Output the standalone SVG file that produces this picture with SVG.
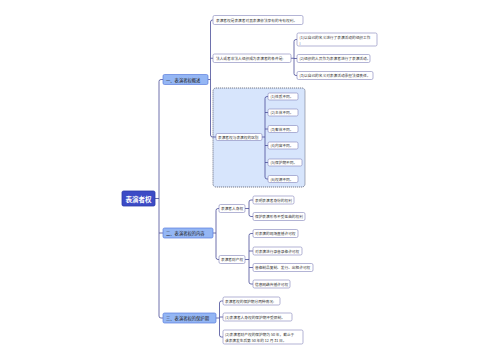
<svg xmlns="http://www.w3.org/2000/svg" width="500" height="360" viewBox="0 0 500 360">
<style>
text{font-family:"Noto Sans CJK SC","Noto Sans",sans-serif;fill:#333;dominant-baseline:central}
.root rect{fill:#3c4bc6;stroke:#2c3aa8;stroke-width:0.8}
.root text{fill:#fff;font-size:6.5px;font-weight:bold;text-anchor:middle}
.br rect{fill:#94b6f4;stroke:#5a7ddc;stroke-width:0.7}
.br text{font-size:4.3px;fill:#222}
.lf rect{fill:#fff;stroke:#7f82b8;stroke-width:0.6}
.lf text{font-size:3.7px}
.grp{fill:#d7e5fc;stroke:#555a70;stroke-width:0.8;stroke-dasharray:1.2 0.8}
.cn path{fill:none;stroke:#494c98;stroke-width:0.8}
</style>
<rect width="500" height="360" fill="#fff"/>
<rect class="grp" x="213" y="88" width="92" height="99" rx="3"/>
<g class="cn">
<path d="M155,198.5 H159 M163,79.5 H161 Q159,79.5 159,81.5 V316 Q159,318 161,318 H163 M159,233 H163" stroke-width="1"/>
<path d="M208,79.5 H210.5 M213,20 H212.5 Q210.5,20 210.5,22 V135 Q210.5,137 212.5,137 H216 M210.5,58.25 H213"/>
<path d="M291,58.25 H294 M297,39.5 H296 Q294,39.5 294,41.5 V73.5 Q294,75.5 296,75.5 H297 M294,58.5 H297"/>
<path d="M262,137 H265 M268,96.5 H267 Q265,96.5 265,98.5 V177 Q265,179 267,179 H268 M265,112.5 H268 M265,129 H268 M265,145.5 H268 M265,162.5 H268"/>
<path d="M213,233 H216 M219,208.5 H218 Q216,208.5 216,210.5 V257.5 Q216,259.5 218,259.5 H219"/>
<path d="M245,208.5 H249 M253,200 H251 Q249,200 249,202 V214.5 Q249,216.5 251,216.5 H253"/>
<path d="M245,259.5 H249 M253,233.5 H251 Q249,233.5 249,235.5 V282 Q249,284 251,284 H253 M249,251 H253 M249,267.5 H253"/>
<path d="M216,318 H219.5 M223,301 H221.5 Q219.5,301 219.5,303 V335 Q219.5,337 221.5,337 H223 M219.5,317 H223"/>
</g>
<g id="root" class="root"><rect x="122" y="191" width="33" height="15" rx="1.5"/><text x="138.5" y="198.5">表演者权</text></g>
<g id="b1" class="br"><rect x="163" y="74.5" width="45" height="10" rx="1.5"/><text x="166" y="79.5">一、表演者权概述</text></g>
<g id="b2" class="br"><rect x="163" y="228" width="50" height="10" rx="1.5"/><text x="166" y="233">二、表演者权的内容</text></g>
<g id="b3" class="br"><rect x="163" y="313" width="53" height="10" rx="1.5"/><text x="166" y="318">三、表演者权的保护期</text></g>
<g id="a1" class="lf"><rect x="213" y="15.5" width="90" height="9" rx="1.5"/><text x="216" y="20">表演者权是表演者对其表演依法享有的专有权利。</text></g>
<g id="a2" class="lf"><rect x="213" y="54" width="78" height="8.5" rx="1.5"/><text x="216" y="58.25">法人或者非法人组织成为表演者的条件是:</text></g>
<g id="a2a" class="lf"><rect x="297" y="33" width="80" height="13" rx="1.5"/><text x="299.5" y="37">(1)以自己的名义进行了表演活动的组织工作</text><text x="299.5" y="42.2">;</text></g>
<g id="a2b" class="lf"><rect x="297" y="54.5" width="73" height="8" rx="1.5"/><text x="299.5" y="58.5">(2)组织的人员作为表演者进行了表演活动。</text></g>
<g id="a2c" class="lf"><rect x="297" y="71.5" width="76" height="8" rx="1.5"/><text x="299.5" y="75.5">(3)以自己的名义对表演活动承担法律责任。</text></g>
<g id="bb" class="lf"><rect x="216" y="133.5" width="46" height="7" rx="1.5"/><text x="218" y="137">表演者权与表演权的区别</text></g>
<g id="bb1" class="lf"><rect x="268" y="93" width="30" height="7" rx="1.5"/><text x="270.5" y="96.5">(1)性质不同。</text></g>
<g id="bb2" class="lf"><rect x="268" y="109" width="30" height="7" rx="1.5"/><text x="270.5" y="112.5">(2)主体不同。</text></g>
<g id="bb3" class="lf"><rect x="268" y="125.5" width="30" height="7" rx="1.5"/><text x="270.5" y="129">(3)客体不同。</text></g>
<g id="bb4" class="lf"><rect x="268" y="142" width="30" height="7" rx="1.5"/><text x="270.5" y="145.5">(4)内容不同。</text></g>
<g id="bb5" class="lf"><rect x="268" y="159" width="34" height="7" rx="1.5"/><text x="270.5" y="162.5">(5)保护期不同。</text></g>
<g id="bb6" class="lf"><rect x="268" y="175.5" width="30" height="7" rx="1.5"/><text x="270.5" y="179">(6)权源不同。</text></g>
<g id="c1" class="lf"><rect x="219" y="204.5" width="26" height="8" rx="1.5"/><text x="221" y="208.5">表演者人身权</text></g>
<g id="c2" class="lf"><rect x="219" y="255.5" width="26" height="8" rx="1.5"/><text x="221" y="259.5">表演者财产权</text></g>
<g id="c1a" class="lf"><rect x="253" y="196" width="41" height="8" rx="1.5"/><text x="255" y="200">表明表演者身份的权利</text></g>
<g id="c1b" class="lf"><rect x="253" y="212.5" width="52" height="8" rx="1.5"/><text x="255" y="216.5">保护表演形象不受歪曲的权利</text></g>
<g id="c2a" class="lf"><rect x="253" y="229.5" width="45" height="8" rx="1.5"/><text x="255" y="233.5">对表演的现场直播许可权</text></g>
<g id="c2b" class="lf"><rect x="253" y="247" width="49" height="8" rx="1.5"/><text x="255" y="251">对表演进行录音录像许可权</text></g>
<g id="c2c" class="lf"><rect x="253" y="263.5" width="60" height="8" rx="1.5"/><text x="255" y="267.5">音像制品复制、发行、出租许可权</text></g>
<g id="c2d" class="lf"><rect x="253" y="280" width="37" height="8" rx="1.5"/><text x="255" y="284">信息网络传播许可权</text></g>
<g id="d1" class="lf"><rect x="223" y="297" width="57" height="8" rx="1.5"/><text x="225" y="301">表演者权的保护期分两种情况:</text></g>
<g id="d2" class="lf"><rect x="223" y="313" width="69" height="8" rx="1.5"/><text x="225" y="317">(1)表演者人身权的保护期不受限制。</text></g>
<g id="d3" class="lf"><rect x="223" y="330" width="80" height="14" rx="1.5"/><text x="225" y="334">(2)表演者财产权的保护期为 50 年，截止于</text><text x="225" y="340">该表演发生后第 50 年的 12 月 31 日。</text></g>
</svg>
